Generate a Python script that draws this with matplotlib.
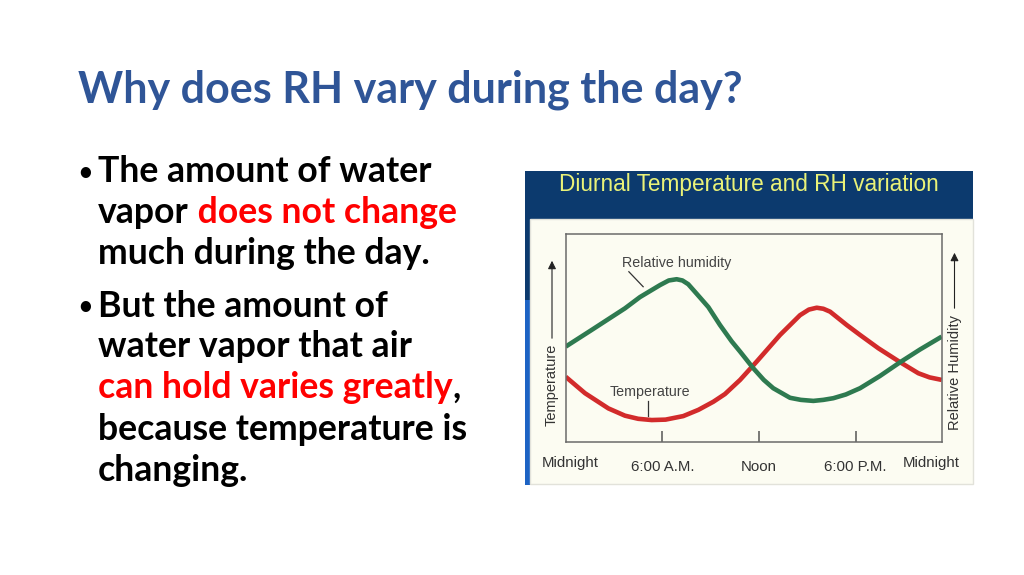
import matplotlib
matplotlib.use("Agg")
import matplotlib.pyplot as plt
from matplotlib.patches import Rectangle

# chart data (hours after midnight, arbitrary 0-100 scale)
rh_hours = [0, 1.61, 3.68, 4.61, 5.86, 6.4, 6.89, 7.25, 7.61, 8.34, 8.86,
            9.58, 10.31, 10.83, 11.65, 12.3, 12.89, 13.93, 14.6, 15.38, 16.0,
            16.62, 17.4, 18.28, 19.5, 20.77, 22.0, 23.35]
rh_vals = [46.0, 54.0, 64.4, 69.8, 75.6, 77.8, 78.4, 77.8, 76.0, 69.6, 65.0,
           56.4, 48.5, 43.6, 35.6, 30.0, 26.0, 21.4, 20.4, 19.9, 20.4,
           21.2, 23.0, 26.0, 31.8, 38.5, 44.6, 50.8]
temp_hours = [0, 1.2, 2.65, 3.68, 4.5, 5.34, 6.2, 7.3, 8.24, 9.17, 9.89,
              10.83, 11.86, 13.31, 14.55, 15.1, 15.59, 16.0, 16.42, 17.45,
              18.28, 19.42, 20.77, 21.9, 22.6, 23.35]
temp_vals = [31.5, 23.6, 16.3, 12.8, 11.3, 10.7, 10.9, 12.6, 15.6, 19.5, 23.2,
             30.0, 38.8, 51.6, 61.1, 63.8, 64.7, 64.2, 62.8, 56.4,
             51.6, 45.2, 38.5, 33.2, 31.2, 30.0]
tick_hours = [6, 12, 18]
tick_names = ["6:00 A.M.", "Noon", "6:00 P.M."]

W, H = 1024, 575
fig = plt.figure(figsize=(W / 100, H / 100), dpi=100)
fig.patch.set_facecolor("white")

def fx(px):
    return px / W

def fy(py):
    return 1 - py / H

# slide title
fig.text(fx(78), fy(102), "Why does RH vary during the day?", fontsize=31,
         family="Lato", weight="bold", color="#2f5597", va="baseline")

# bullet text, with coloured parts
bullet_lines = [
    (182, True, [("The amount of water", "black")]),
    (223, False, [("vapor", "black"), (" does not change", "#ff0000")]),
    (264, False, [("much during the day.", "black")]),
    (317, True, [("But the amount of", "black")]),
    (357, False, [("water vapor that air", "black")]),
    (398, False, [("can hold varies greatly", "#ff0000"), (",", "black")]),
    (440, False, [("because temperature is", "black")]),
    (481, False, [("changing.", "black")]),
]
renderer = fig.canvas.get_renderer()
for y, bullet, parts in bullet_lines:
    if bullet:
        fig.text(fx(85), fy(y - 10), "\u2022", fontsize=17, family="Lato",
                 weight="bold", color="black", ha="center", va="center")
    x = fx(98)
    for txt, col in parts:
        t = fig.text(x, fy(y), txt, fontsize=25.7, family="Lato", weight="bold",
                     color=col, va="baseline")
        x = fig.transFigure.inverted().transform(
            (t.get_window_extent(renderer).x1, 0))[0]

# picture frame of the embedded chart
fig.patches.append(Rectangle((fx(525), fy(485)), fx(448), (485 - 171.5) / H,
                             transform=fig.transFigure, facecolor="#0c3a6e",
                             edgecolor="none", zorder=-2))
fig.patches.append(Rectangle((fx(525), fy(485)), fx(5), (485 - 300) / H,
                             transform=fig.transFigure, facecolor="#1d63c4",
                             edgecolor="none", zorder=-2))
fig.patches.append(Rectangle((fx(530), fy(484)), fx(443), (484 - 218.5) / H,
                             transform=fig.transFigure, facecolor="#fcfcf2",
                             edgecolor="#e2e2da", linewidth=1, zorder=-1))
fig.text(fx(749), fy(184), "Diurnal Temperature and RH variation",
         fontsize=16.3, family="Liberation Sans", color="#eaf278",
         ha="center", va="center")

ax = fig.add_axes([fx(565.7), fy(442.3), fx(941.7 - 565.7),
                   (442.3 - 234.3) / H])
ax.set_facecolor("#fcfcf2")
ax.plot(temp_hours, temp_vals, color="#d22b2b", lw=3.3,
        solid_joinstyle="round", solid_capstyle="butt")
ax.plot(rh_hours, rh_vals, color="#2e7a50", lw=3.3,
        solid_joinstyle="round", solid_capstyle="butt")
ax.set_xlim(0, 23.35)
ax.set_ylim(0, 100)
for s in ax.spines.values():
    s.set_color("#6a6a6a")
    s.set_linewidth(1.1)
ax.set_yticks([])
ax.set_xticks(tick_hours)
ax.set_xticklabels(tick_names, family="Liberation Sans", fontsize=10.8,
                   color="#333333")
ax.tick_params(axis="x", direction="in", length=8, width=1.1, color="#555555",
               pad=13)
ax.text(0.011, -0.1, "Midnight", transform=ax.transAxes, ha="center",
        va="center", family="Liberation Sans", fontsize=10.8, color="#333333")
ax.text(0.973, -0.1, "Midnight", transform=ax.transAxes, ha="center",
        va="center", family="Liberation Sans", fontsize=10.8, color="#333333")

# curve labels with leader lines
ax.text(0.295, 0.861, "Relative humidity", transform=ax.transAxes,
        ha="center", va="center", family="Liberation Sans", fontsize=10.3,
        color="#444444")
ax.plot([0.168, 0.206], [0.82, 0.748], transform=ax.transAxes,
        color="#333333", lw=0.9)
ax.text(0.223, 0.243, "Temperature", transform=ax.transAxes,
        ha="center", va="center", family="Liberation Sans", fontsize=10.3,
        color="#444444")
ax.plot([0.22, 0.22], [0.2, 0.128], transform=ax.transAxes,
        color="#333333", lw=0.9)

# side labels with arrows
fig.text(fx(552), fy(385), "Temperature", rotation=90, ha="center",
         va="center", family="Liberation Sans", fontsize=10.5, color="#333333")
fig.text(fx(954.5), fy(372), "Relative Humidity", rotation=90, ha="center",
         va="center", family="Liberation Sans", fontsize=10.5, color="#333333")
for xp, y0, y1 in [(552, 341, 258), (954.5, 311, 250)]:
    ax.annotate("", xy=(fx(xp), fy(y1)), xytext=(fx(xp), fy(y0)),
                xycoords="figure fraction", textcoords="figure fraction",
                arrowprops=dict(arrowstyle="-|>", color="#222222", lw=0.8,
                                mutation_scale=12))

fig.savefig("out.png", dpi=100)
